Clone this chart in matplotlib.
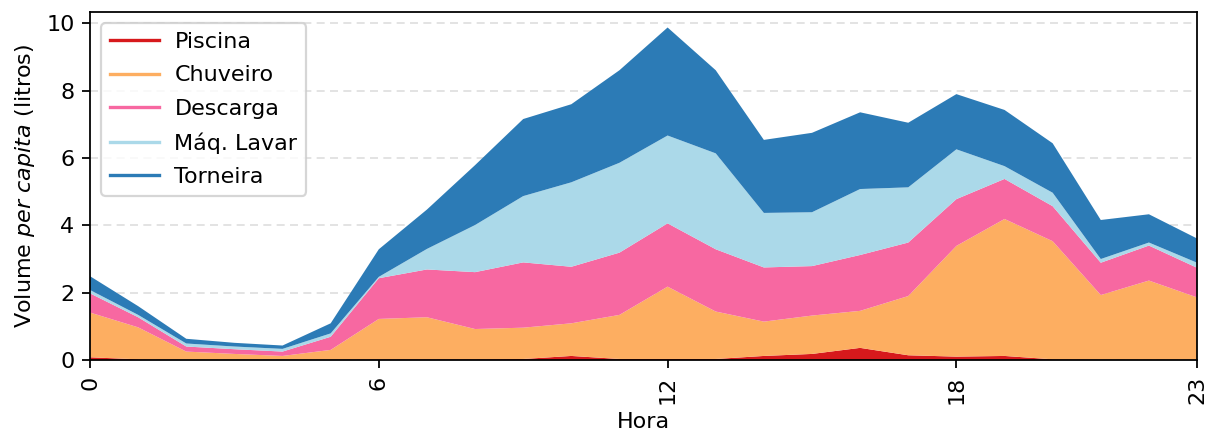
import matplotlib.pyplot as plt

horas = list(range(24))

piscina = [0.08, 0.02, 0.01, 0.01, 0.01, 0.01, 0.02, 0.02, 0.02, 0.03, 0.12, 0.03,
           0.03, 0.03, 0.12, 0.18, 0.36, 0.14, 0.10, 0.12, 0.02, 0.01, 0.01, 0.01]
chuveiro = [1.33, 0.95, 0.24, 0.17, 0.11, 0.29, 1.20, 1.25, 0.90, 0.93, 0.97, 1.31,
            2.15, 1.41, 1.02, 1.14, 1.10, 1.76, 3.29, 4.07, 3.51, 1.92, 2.35, 1.85]
descarga = [0.57, 0.30, 0.15, 0.14, 0.13, 0.39, 1.21, 1.42, 1.69, 1.94, 1.68, 1.85,
            1.88, 1.85, 1.61, 1.47, 1.66, 1.59, 1.39, 1.19, 1.04, 0.96, 1.04, 0.88]
maq_lavar = [0.10, 0.07, 0.09, 0.08, 0.08, 0.10, 0.04, 0.61, 1.40, 1.97, 2.51, 2.67,
             2.61, 2.85, 1.62, 1.60, 1.96, 1.64, 1.48, 0.38, 0.40, 0.11, 0.09, 0.15]
torneira = [0.41, 0.26, 0.14, 0.11, 0.10, 0.30, 0.82, 1.17, 1.78, 2.29, 2.32, 2.75,
            3.21, 2.47, 2.17, 2.36, 2.28, 1.92, 1.64, 1.67, 1.47, 1.16, 0.84, 0.72]

labels = ["Piscina", "Chuveiro", "Descarga", "Máq. Lavar", "Torneira"]
cores = ["#d7191c", "#fdae61", "#f768a1", "#abd9e9", "#2c7bb6"]

DPI = 160
fig = plt.figure(figsize=(1205 / DPI, 432 / DPI), dpi=DPI)
ax = fig.add_axes([0.0747, 0.1667, 0.9187, 0.8055])

ax.stackplot(horas, piscina, chuveiro, descarga, maq_lavar, torneira, colors=cores)

# legenda com linhas
for lab, c in zip(labels, cores):
    ax.plot([], [], color=c, lw=1.5, label=lab)
ax.legend(loc="upper left", handlelength=2.2, labelspacing=0.6, handletextpad=0.7)

ax.set_xlim(0, 23)
ax.set_ylim(0, 10.34)
ax.set_xticks([0, 6, 12, 18, 23])
ax.tick_params(axis="x", labelrotation=90)
ax.set_yticks([0, 2, 4, 6, 8, 10])
ax.yaxis.grid(True, linestyle=(0, (4.5, 3)), color="#e0e0e0", lw=0.8)
ax.set_axisbelow(True)
ax.set_xlabel("Hora", labelpad=3.5)
ax.set_ylabel("Volume $\\it{per\\ capita}$ (litros)")

fig.savefig("out.png", dpi=DPI)
